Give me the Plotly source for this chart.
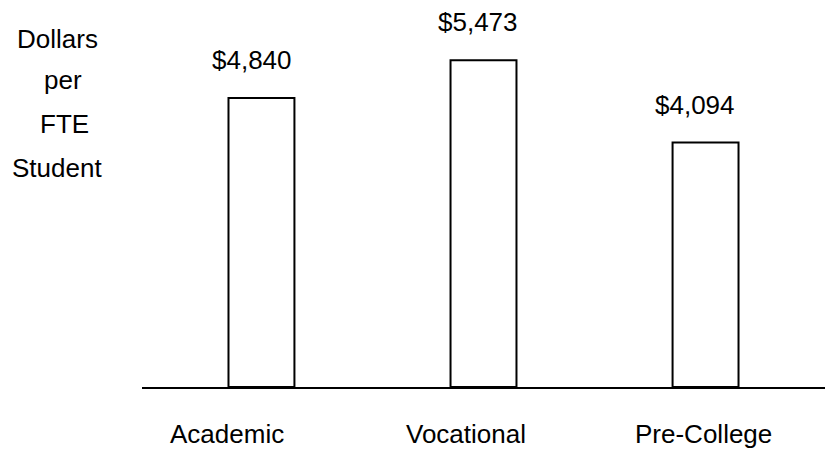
import plotly.graph_objects as go

categories = ["Academic", "Vocational", "Pre-College"]
dollars = [4840, 5473, 4094]
value_labels = ["$4,840", "$5,473", "$4,094"]
title_lines = ["Dollars", "per", "FTE", "Student"]

FONT = dict(family="Liberation Sans, Arial, Helvetica, sans-serif", size=26, color="black")

# page has an 8px body margin, so the figure is drawn 8px smaller
PAGE_OFF = 8

fig = go.Figure()

fig.add_trace(
    go.Bar(
        x=categories,
        y=dollars,
        width=0.297,
        marker=dict(color="white", line=dict(color="black", width=2)),
        hoverinfo="skip",
    )
)

# value labels above bars
label_dx = [-9, -6, -11]
for cat, val, txt, dx in zip(categories, dollars, value_labels, label_dx):
    fig.add_annotation(
        x=cat, y=val, text=txt, showarrow=False,
        xanchor="center", yanchor="middle", xshift=dx, yshift=38, font=FONT,
    )

# category labels under the axis
cat_dx = [-34, -18, -2]
for cat, dx in zip(categories, cat_dx):
    fig.add_annotation(
        x=cat, y=0, text=cat, showarrow=False,
        xanchor="center", yanchor="middle", xshift=dx, yshift=-47, font=FONT,
    )

# stacked y-axis title
title_x = [57, 63, 64, 57]
title_y = [39, 80, 124, 168]
for txt, px, py in zip(title_lines, title_x, title_y):
    fig.add_annotation(
        xref="paper", yref="paper",
        x=(px - 142) / 691, y=1 - (py - PAGE_OFF) / 379,
        text=txt, showarrow=False, xanchor="center", yanchor="middle", font=FONT,
    )

fig.update_layout(
    width=833 - PAGE_OFF,
    height=450 - PAGE_OFF,
    margin=dict(l=134, r=0, t=0, b=63),
    plot_bgcolor="white",
    paper_bgcolor="white",
    showlegend=False,
    xaxis=dict(
        range=[-0.538, 2.574],
        showline=True, linecolor="black", linewidth=1.5,
        showticklabels=False, ticks="", showgrid=False, zeroline=False,
    ),
    yaxis=dict(
        range=[0, 6348],
        visible=False, showgrid=False, zeroline=False,
    ),
)

fig.write_html("out.html")
